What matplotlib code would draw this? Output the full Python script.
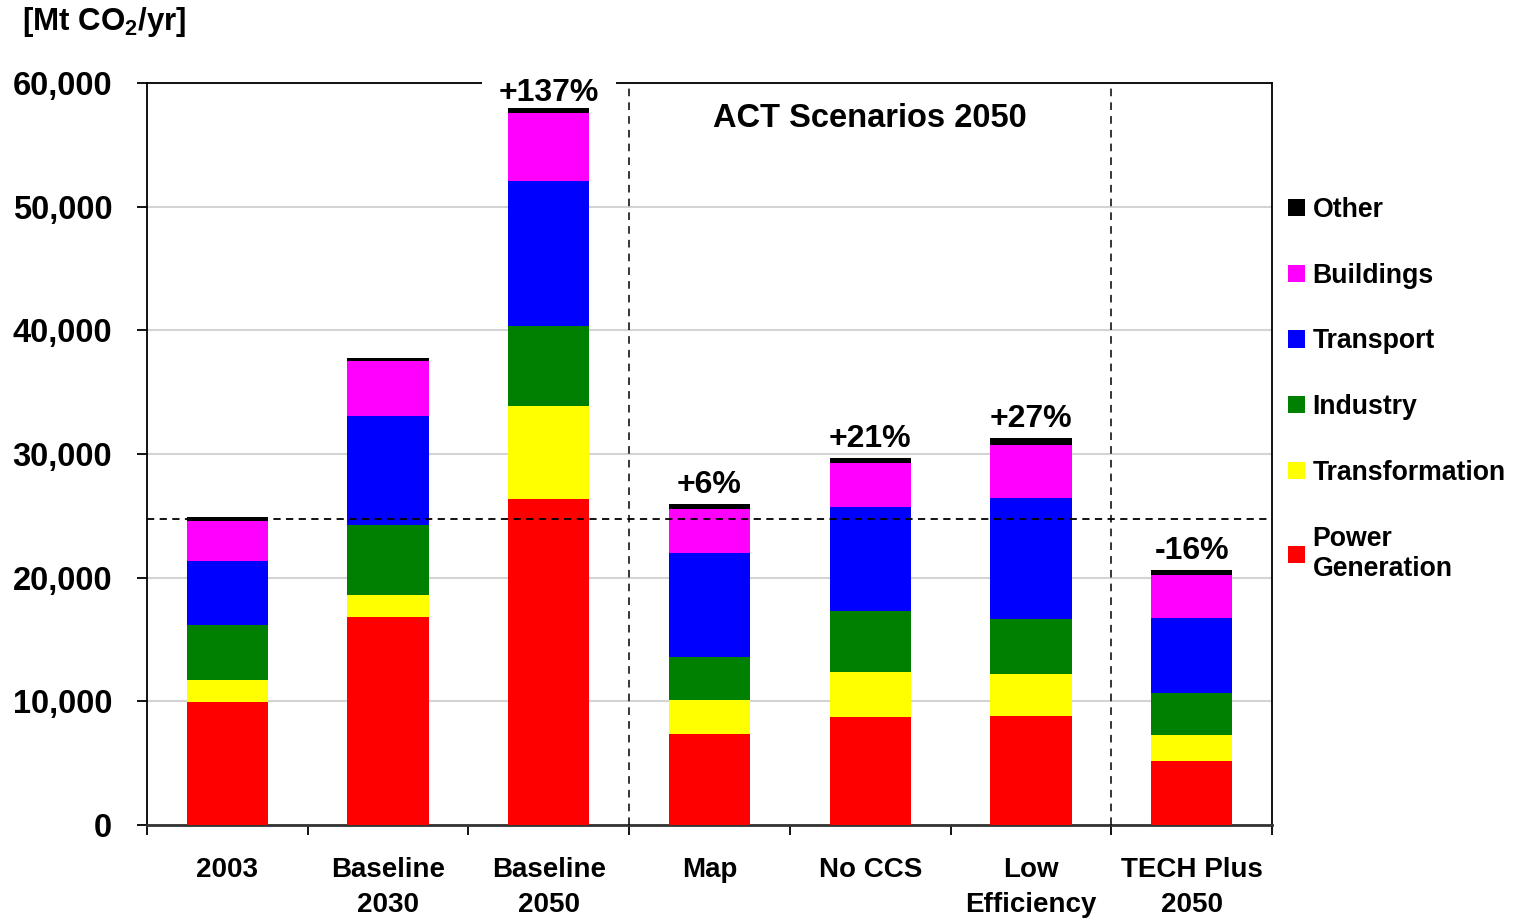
import matplotlib
matplotlib.use("Agg")
import matplotlib.pyplot as plt
import numpy as np

plt.rcParams['font.family'] = ['Liberation Sans', 'DejaVu Sans']
plt.rcParams['font.weight'] = 'bold'
plt.rcParams['mathtext.fontset'] = 'custom'
plt.rcParams['mathtext.rm'] = 'Liberation Sans:bold'
plt.rcParams['mathtext.bf'] = 'Liberation Sans:bold'
plt.rcParams['mathtext.it'] = 'Liberation Sans:bold'

categories = ["2003", "Baseline\n2030", "Baseline\n2050", "Map", "No CCS",
              "Low\nEfficiency", "TECH Plus\n2050"]
sectors = ["Power\nGeneration", "Transformation", "Industry", "Transport", "Buildings", "Other"]
colors = ["#ff0000", "#ffff00", "#008000", "#0000ff", "#ff00ff", "#000000"]

power_generation = [9970, 16820, 26390, 7360, 8760, 8840, 5200]
transformation = [1760, 1780, 7520, 2770, 3610, 3370, 2080]
industry = [4450, 5690, 6470, 3450, 4930, 4450, 3400]
transport = [5170, 8820, 11700, 8410, 8410, 9780, 6060]
buildings = [3240, 4370, 5500, 3560, 3560, 4290, 3480]
other = [320, 320, 400, 400, 400, 570, 400]

pct_labels = ["", "", "+137%", "+6%", "+21%", "+27%", "-16%"]
reference_2003 = 24750
yticks = [0, 10000, 20000, 30000, 40000, 50000, 60000]

series = [power_generation, transformation, industry, transport, buildings, other]

fig = plt.figure(figsize=(15.24, 9.19), dpi=100)
ax = fig.add_axes([0.09646, 0.10229, 0.7382, 0.8074])

x = np.arange(len(categories))
bottom = np.zeros(len(categories))
handles = []
for vals, col, lab in zip(series, colors, sectors):
    b = ax.bar(x, vals, width=0.505, bottom=bottom, color=col, label=lab,
               zorder=3, linewidth=0)
    handles.append(b)
    bottom += np.array(vals)

ax.set_xlim(-0.5, len(categories) - 0.5)
ax.set_ylim(0, 60000)
ax.set_yticks(yticks)
ax.set_yticklabels([f"{v:,}" for v in yticks], fontsize=23.5, fontweight='bold')
ax.yaxis.grid(True, color='#d3d3d3', linewidth=1.5, zorder=0)
ax.set_axisbelow(True)

ax.set_xticks(x)
ax.set_xticklabels(categories, fontsize=20, fontweight='bold', linespacing=1.45)
ax.set_xticks(np.arange(-0.5, len(categories), 1.0), minor=True)
ax.tick_params(axis='x', which='major', length=0, pad=23)
ax.tick_params(axis='x', which='minor', length=7, width=1.3, direction='out')
ax.tick_params(axis='y', which='major', length=7, width=1.3, direction='out', pad=18)

for sp in ax.spines.values():
    sp.set_linewidth(1.3)
    sp.set_color('black')
ax.spines['bottom'].set_linewidth(2.0)
ax.spines['bottom'].set_color('#333333')

ax.axhline(reference_2003, color='black', linestyle=(0, (4, 3)), linewidth=1.3, zorder=4)
for xv in [2.5, 5.5]:
    ax.axvline(xv, color='black', linestyle=(0, (5, 4)), linewidth=1.1, zorder=4)

totals = bottom
for xi, tot, lab in zip(x, totals, pct_labels):
    if not lab:
        continue
    off = 0 if lab == "+137%" else 3
    ax.annotate(lab, (xi, tot), xytext=(0, off), textcoords='offset points',
                ha='center', va='bottom', fontsize=23, fontweight='bold',
                zorder=2.7, annotation_clip=False,
                bbox=dict(facecolor='white', edgecolor='none', pad=12) if lab == "+137%" else None)

ax.text(4, 57100, "ACT Scenarios 2050", ha='center', va='center',
        fontsize=23.5, fontweight='bold', zorder=5)

fig.text(22 / 1524, 1 - 22 / 919, "[Mt CO$_{2}$/yr]", ha='left', va='center',
         fontsize=22.5, fontweight='bold')

leg = fig.legend(handles[::-1], sectors[::-1], loc='upper left',
                 bbox_to_anchor=(1288 / 1524, 1 - 197 / 919), frameon=False,
                 fontsize=19.2, handlelength=0.62, handleheight=0.62,
                 handletextpad=0.3, labelspacing=1.49, borderpad=0, borderaxespad=0)
for t in leg.get_texts():
    t.set_fontweight('bold')
    t.set_linespacing(1.22)

fig.savefig("out.png", dpi=100)
